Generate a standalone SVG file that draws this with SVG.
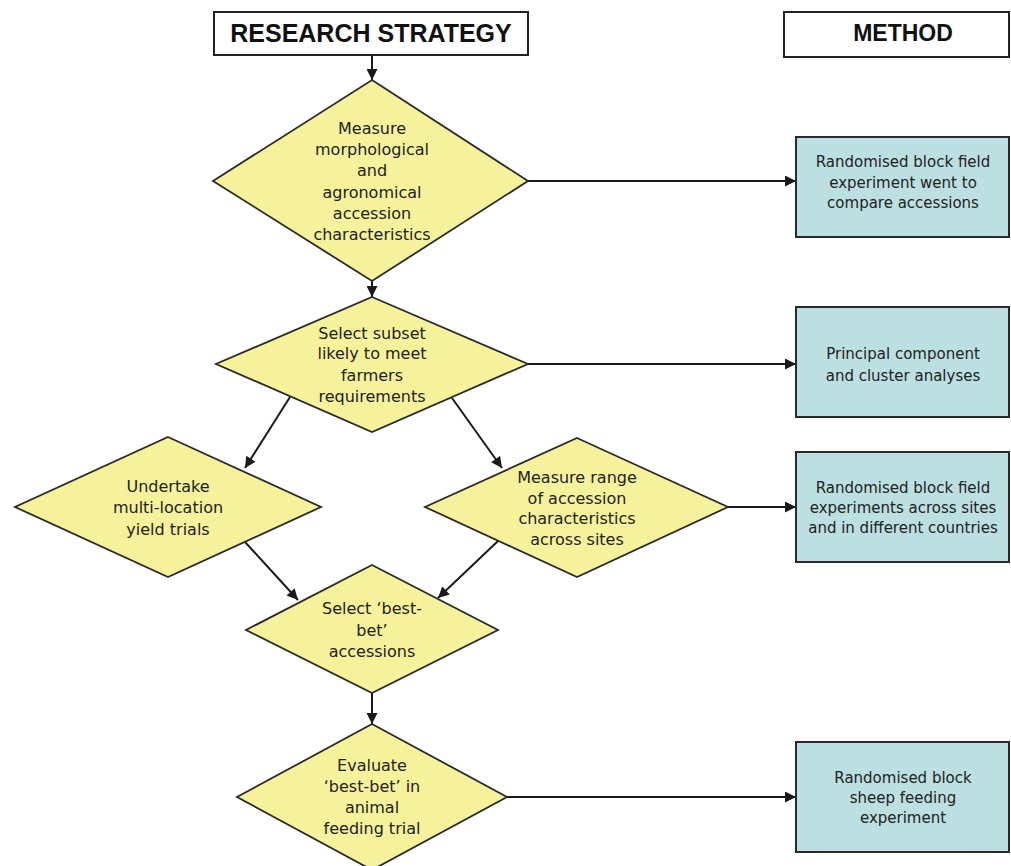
<svg xmlns="http://www.w3.org/2000/svg" width="1011" height="866" viewBox="0 0 1011 866">
<style>
.hdr{fill:#ffffff;stroke:#222;stroke-width:2}
.dia{fill:#F6F29C;stroke:#2a2a2a;stroke-width:1.8;stroke-linejoin:miter}
.box{fill:#BCE0E1;stroke:#2a2a2a;stroke-width:2}
.dt{font-family:"DejaVu Sans",sans-serif;font-size:16px;fill:#222;text-anchor:middle}
.bt{font-family:"DejaVu Sans",sans-serif;font-size:15px;fill:#222;text-anchor:middle}
.ht{font-family:"Liberation Sans",Arial,sans-serif;font-weight:bold;fill:#111;text-anchor:middle}
.con{stroke:#1a1a1a;stroke-width:2;fill:none;marker-end:url(#ah)}
</style>
<defs>
<marker id="ah" viewBox="0 0 10 10" refX="10" refY="5" markerWidth="6" markerHeight="5.5" orient="auto" markerUnits="strokeWidth">
<path d="M0,0 L10,5 L0,10 z" fill="#1a1a1a"/>
</marker>
</defs>
<rect width="1011" height="866" fill="#ffffff"/>

<g id="connectors">
<line class="con" x1="372" y1="56" x2="372" y2="80"/>
<line class="con" x1="372" y1="281" x2="372" y2="297"/>
<line class="con" x1="528" y1="181" x2="796" y2="181"/>
<line class="con" x1="528" y1="364" x2="796" y2="364"/>
<line class="con" x1="290" y1="397" x2="245" y2="468"/>
<line class="con" x1="452" y1="398" x2="502" y2="468"/>
<line class="con" x1="728" y1="507" x2="796" y2="507"/>
<line class="con" x1="245" y1="542" x2="298" y2="600"/>
<line class="con" x1="498" y1="541" x2="438" y2="598"/>
<line class="con" x1="372" y1="693" x2="372" y2="724"/>
<line class="con" x1="507" y1="797" x2="796" y2="797"/>
</g>

<g id="header-strategy">
<rect class="hdr" x="214" y="12" width="314" height="43"/>
<text class="ht" x="371" y="42" font-size="25">RESEARCH STRATEGY</text>
</g>

<g id="header-method">
<rect class="hdr" x="784" y="12" width="225" height="45"/>
<text class="ht" x="903" y="41" font-size="23">METHOD</text>
</g>

<g id="d1">
<polygon class="dia" points="372,80 528,181 372,281 213,181"/>
<text class="dt" x="372" y="134">Measure</text>
<text class="dt" x="372" y="155">morphological</text>
<text class="dt" x="372" y="176">and</text>
<text class="dt" x="372" y="198">agronomical</text>
<text class="dt" x="372" y="219">accession</text>
<text class="dt" x="372" y="240">characteristics</text>
</g>

<g id="d2">
<polygon class="dia" points="372,297 528,364 372,432 216,364"/>
<text class="dt" x="372" y="339">Select subset</text>
<text class="dt" x="372" y="359">likely to meet</text>
<text class="dt" x="372" y="381">farmers</text>
<text class="dt" x="372" y="402">requirements</text>
</g>

<g id="d3">
<polygon class="dia" points="168,437 321,507 168,577 15,507"/>
<text class="dt" x="168" y="492">Undertake</text>
<text class="dt" x="168" y="513">multi-location</text>
<text class="dt" x="168" y="535">yield trials</text>
</g>

<g id="d4">
<polygon class="dia" points="577,438 728,507 577,577 425,507"/>
<text class="dt" x="577" y="483">Measure range</text>
<text class="dt" x="577" y="504">of accession</text>
<text class="dt" x="577" y="524">characteristics</text>
<text class="dt" x="577" y="545">across sites</text>
</g>

<g id="d5">
<polygon class="dia" points="372,565 498,630 372,693 246,630"/>
<text class="dt" x="372" y="614">Select ‘best-</text>
<text class="dt" x="372" y="636">bet’</text>
<text class="dt" x="372" y="657">accessions</text>
</g>

<g id="d6">
<polygon class="dia" points="372,724 507,797 372,870 237,797"/>
<text class="dt" x="372" y="771">Evaluate</text>
<text class="dt" x="372" y="792">‘best-bet’ in</text>
<text class="dt" x="372" y="813">animal</text>
<text class="dt" x="372" y="834">feeding trial</text>
</g>

<g id="m1">
<rect class="box" x="796" y="137" width="213" height="100"/>
<text class="bt" x="903" y="167">Randomised block field</text>
<text class="bt" x="903" y="188">experiment went to</text>
<text class="bt" x="903" y="208">compare accessions</text>
</g>

<g id="m2">
<rect class="box" x="796" y="307" width="213" height="110"/>
<text class="bt" x="903" y="359">Principal component</text>
<text class="bt" x="903" y="381">and cluster analyses</text>
</g>

<g id="m3">
<rect class="box" x="796" y="452" width="213" height="110"/>
<text class="bt" x="903" y="493">Randomised block field</text>
<text class="bt" x="903" y="513">experiments across sites</text>
<text class="bt" x="903" y="533">and in different countries</text>
</g>

<g id="m4">
<rect class="box" x="796" y="742" width="213" height="110"/>
<text class="bt" x="903" y="783">Randomised block</text>
<text class="bt" x="903" y="803">sheep feeding</text>
<text class="bt" x="903" y="823">experiment</text>
</g>
</svg>
